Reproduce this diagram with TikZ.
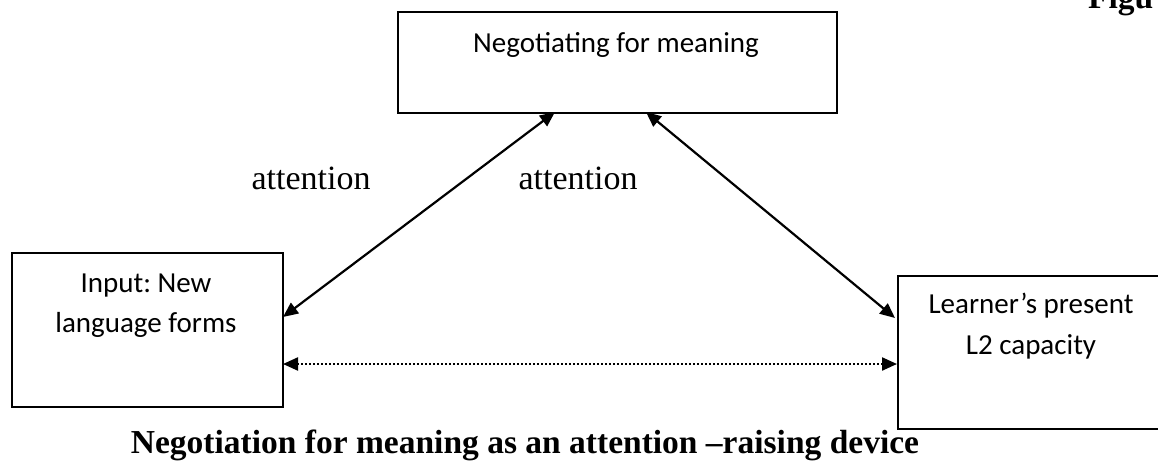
\documentclass[tikz,border=0pt]{standalone}
\usepackage{fontspec}
\setmainfont{Liberation Serif}
\newfontfamily\boxfont{Carlito}
\usetikzlibrary{arrows.meta}
\frenchspacing
\tikzset{
  boxshape/.style={draw, line width=1.8pt, minimum width=#1, inner sep=0pt},
  boxtext/.style={font=\boxfont\fontsize{29}{40}\selectfont, align=center, inner sep=0pt, anchor=base},
  lbl/.style={font=\fontsize{34}{40}\selectfont, inner sep=0pt, anchor=base},
  tip/.style={{Triangle[length=15pt,width=13pt]}-{Triangle[length=15pt,width=13pt]}},
  conn/.style={tip, line width=2.2pt},
  dotconn/.style={tip, line width=2.2pt, dash pattern=on 2pt off 2pt},
  titlefont/.style={font=\bfseries\fontsize{33.5}{40}\selectfont, inner sep=0pt},
}
\begin{document}
\begin{tikzpicture}[x=1pt,y=-1pt]
\useasboundingbox (0,0) rectangle (1158,461);
% boxes
\node[boxshape=439pt, minimum height=101pt, anchor=north west] (top) at (397,11) {};
\node[boxshape=271pt, minimum height=154pt, anchor=north west] (left) at (11,252) {};
\node[boxshape=275pt, minimum height=153pt, anchor=north west] (right) at (897,275) {};
% box texts
\node[boxtext] (toptext) at (616,52) {Negotiating for meaning};
\node[boxtext] (lefttext1) at (146,292) {Input: New};
\node[boxtext] (lefttext2) at (146,332) {language forms};
\node[boxtext] (righttext1) at (1031,313) {Learner’s present};
\node[boxtext] (righttext2) at (1031,354) {L2 capacity};
% connector end points
\coordinate (tl) at (555,112);
\coordinate (tr) at (646,112);
\coordinate (lr) at (283,317);
\coordinate (rl) at (895,318);
\coordinate (ld) at (283,364);
\coordinate (rd) at (897,364);
\draw[conn] (lr) -- (tl);
\draw[conn] (tr) -- (rl);
\draw[dotconn] (ld) -- (rd);
% labels
\node[lbl] (att1) at (311,189) {attention};
\node[lbl] (att2) at (578,189) {attention};
\node[titlefont, anchor=base] (title) at (525,453) {Negotiation for meaning as an attention –raising device};
\node[titlefont, anchor=base west] (fig) at (1088,8) {Figu};
\end{tikzpicture}
\end{document}
